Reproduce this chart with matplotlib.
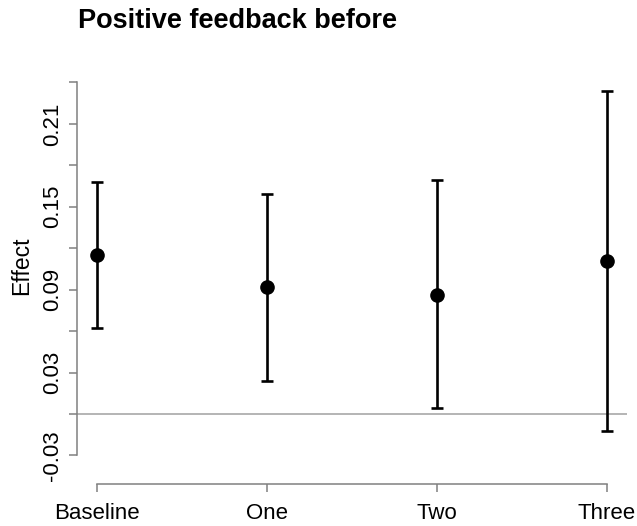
import matplotlib
matplotlib.use("Agg")
import matplotlib.pyplot as plt
import numpy as np

plt.rcParams['font.family'] = ['Liberation Sans', 'DejaVu Sans']

# estimates
groups = ["Baseline", "One", "Two", "Three"]
effect = [0.115, 0.092, 0.086, 0.111]
lower = [0.062, 0.024, 0.004, -0.012]
upper = [0.168, 0.159, 0.169, 0.234]

yticks = np.round(np.arange(-0.03, 0.2401, 0.03), 2)
ylabels = ["-0.03", "0.03", "0.09", "0.15", "0.21"]

W, H = 637, 526
fig = plt.figure(figsize=(W / 100, H / 100), dpi=100)
ax = fig.add_axes([77 / W, 1 - 484 / H, (627.4 - 77) / W, (484 - 76) / H])

x = np.arange(1, len(groups) + 1)
eff = np.array(effect)
err = [eff - np.array(lower), np.array(upper) - eff]

ax.axhline(0, color="#a0a0a0", lw=1.1, zorder=1)
ax.errorbar(x, eff, yerr=err, fmt="o", color="black", ms=9.5, lw=1.9,
            capsize=4, capthick=1.9, zorder=3)

ax.set_xlim(0.88, 4.12)
ax.set_ylim((414 - 484) / 1381.7, (414 - 76) / 1381.7)

for s in ["top", "right"]:
    ax.spines[s].set_visible(False)
for s in ["left", "bottom"]:
    ax.spines[s].set_color("#808080")
    ax.spines[s].set_linewidth(1.1)
ax.spines["left"].set_bounds(-0.03, 0.24)
ax.spines["bottom"].set_bounds(1, 4)

ax.set_xticks(x)
ax.set_xticklabels(groups, fontsize=16)
ax.set_yticks(yticks)
ax.set_yticklabels([f"{v:.2f}" if f"{v:.2f}" in ylabels else "" for v in yticks],
                   rotation=90, va="center", fontsize=16)
ax.tick_params(axis="both", color="#808080", width=1.1, length=6, pad=4)
ax.tick_params(axis="x", pad=8)

fig.text(22 / W, 1 - 266 / H, "Effect", rotation=90, ha="center", va="center",
         fontsize=16.5)
fig.text(78 / W, 1 - 21 / H, "Positive feedback before", ha="left", va="center",
         fontsize=19.5, fontweight="bold")

fig.savefig("out.png", dpi=100)
